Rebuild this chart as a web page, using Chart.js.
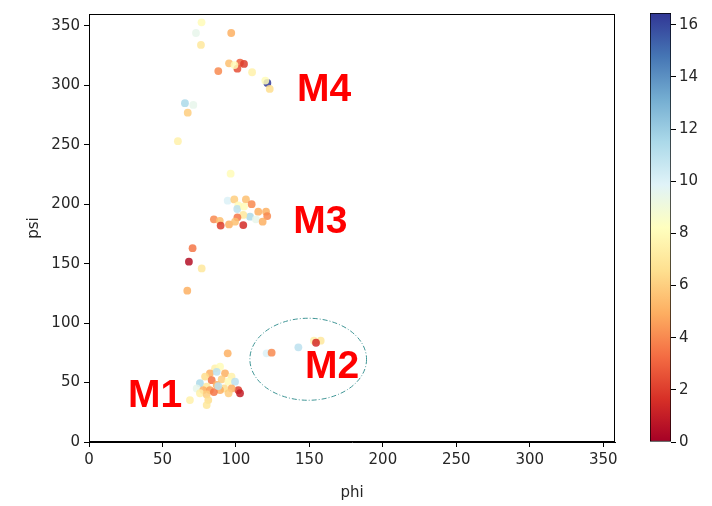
<!DOCTYPE html>
<html><head><meta charset="utf-8">
<script src="https://cdn.jsdelivr.net/npm/chart.js@4/dist/chart.umd.min.js"></script>
<style>
html,body{margin:0;padding:0;background:#fff;}
#wrap{position:relative;width:712px;height:506px;}
#main{position:absolute;left:0;top:0;}
#cb{position:absolute;left:640px;top:0;}
</style></head>
<body><div id="wrap"><canvas id="main" width="640" height="506"></canvas><canvas id="cb" width="72" height="506"></canvas></div>
<script>
const phi = [76.6,72.8,96.8,76.2,95.3,88,101,102.8,105.5,99,111,121.4,123,120,65.3,71,67.2,60.5,
  96.4,94.4,98.9,106.8,110.7,101.6,100.9,105.5,115.2,120.5,121.3,109.6,105,101,113.6,118.2,85,89,89.6,95.3,99.4,105,70.5,68,76.7,66.9,
  94.4,85.8,89.2,82.3,86.9,92.6,79,97,83.5,90.3,94.8,99.4,75.5,86.9,80.1,101.6,97.1,92,73.3,77.8,82.3,89.2,102.8,95,75.5,80.1,68.7,81.2,80.1,85,88,
  120.9,124.3,142.5,153.1,157.7,154.5];
const psi = [353,344,344,334,318.5,312,314,319,318,317,311,302,297,304,285,283.5,277,253,
  225.7,203,204,204,200,199,196,198,193.7,193.7,190,189.5,191,189,187.3,185.3,187.3,186,182,183,185.3,182.5,163,151.7,146,127.3,
  74.6,62,63.3,57.8,59,57.8,55,55,52,52.7,50.7,50.7,49.4,48,46.5,43.7,45,45,45,43.7,43.7,43.7,41,41,41,40,35.3,35.3,31.1,42,47,
  74.6,75.1,79.6,85.2,85.2,83.5];
const energy = [8,9.5,5,7,5.5,4,2.5,3,2,8,7.5,16.4,6.5,8,11.5,9.5,6,7.5,
  8,10,6,5.5,4,8,11,8,5,5,4,11.5,7,3.5,9.5,5,4,5.5,2,5,5.5,1.5,3.5,0.5,7,5,
  5,7.5,8,5,11,5,6.5,7.5,3.5,6,8,11,11.5,5,7,2,5,6.5,9.5,5,4.5,5,1,6,7.5,6,7.5,6.5,7,3.5,11,
  10,4,11,7.5,7,1.5];
const axisTicks = [0,50,100,150,200,250,300,350];
const cbTicks = [0,2,4,6,8,10,12,14,16];
const cbMax = 16.45;
const regionNames = ['M1','M2','M3','M4'];
const regionPhi = [26.5,147,139,141.5];
const regionPsi = [38.7,62.7,185,296];
const ellipseCenter = [149.2,69.6];
const ellipseRadii = [39.7,34.5];

const cmapStops = ['#a50026','#d73027','#f46d43','#fdae61','#fee090','#ffffbf','#e0f3f8','#abd9e9','#74add1','#4575b4','#313695'];
function hex2rgb(h){return [parseInt(h.substr(1,2),16),parseInt(h.substr(3,2),16),parseInt(h.substr(5,2),16)];}
function cmap(t,a){
  t=Math.max(0,Math.min(1,t));
  const p=t*(cmapStops.length-1), i=Math.min(Math.floor(p),cmapStops.length-2), f=p-i;
  const c0=hex2rgb(cmapStops[i]), c1=hex2rgb(cmapStops[i+1]);
  const c=c0.map((v,k)=>Math.round(v+(c1[k]-v)*f));
  return `rgba(${c[0]},${c[1]},${c[2]},${a})`;
}
const FONT = "'DejaVu Sans'";
const TXT = '#262626';

const boxPlugin = {
  id:'box',
  afterDraw(chart){
    const {ctx, chartArea:a, scales} = chart;
    ctx.save();
    const xs=scales.x, ys=scales.y;
    const cx=xs.getPixelForValue(ellipseCenter[0]), cy=ys.getPixelForValue(ellipseCenter[1]);
    const rx=xs.getPixelForValue(ellipseCenter[0]+ellipseRadii[0])-cx;
    const ry=cy-ys.getPixelForValue(ellipseCenter[1]+ellipseRadii[1]);
    ctx.strokeStyle='#3f9595'; ctx.lineWidth=1; ctx.setLineDash([5,2,1,2]);
    ctx.beginPath(); ctx.ellipse(cx,cy,rx,ry,0,0,Math.PI*2); ctx.stroke();
    ctx.setLineDash([]);
    ctx.fillStyle='#ff0000'; ctx.font="bold 39px 'Liberation Sans'"; ctx.textBaseline='middle'; ctx.textAlign='left';
    regionNames.forEach((n,i)=>{ctx.fillText(n, xs.getPixelForValue(regionPhi[i]), ys.getPixelForValue(regionPsi[i]));});
    ctx.strokeStyle='#000'; ctx.lineWidth=1;
    ctx.strokeRect(Math.round(a.left)+0.5, Math.round(a.top)+0.5, Math.round(a.right-a.left)-1, Math.round(a.bottom-a.top)-1);
    ctx.restore();
  }
};

new Chart(document.getElementById('main'), {
  type:'scatter',
  data:{datasets:[{
    data: phi.map((v,i)=>({x:v,y:psi[i]})),
    backgroundColor: energy.map(e=>cmap(e/cbMax,0.85)),
    pointRadius:3.9, pointBorderWidth:0, pointHoverRadius:3.9
  }]},
  options:{
    responsive:false, animation:false, devicePixelRatio:1,
    layout:{padding:{left:0,top:14,right:25,bottom:0}},
    plugins:{legend:{display:false},tooltip:{enabled:false}},
    scales:{
      x:{type:'linear',min:0,max:358,
        afterBuildTicks:s=>{s.ticks=axisTicks.map(v=>({value:v}));},
        afterFit:s=>{s.height=64;},
        grid:{drawOnChartArea:false,drawTicks:true,tickLength:5,color:'#000'},
        border:{color:'#000'},
        ticks:{color:TXT,font:{family:FONT,size:15},padding:4,maxRotation:0},
        title:{display:true,text:'phi',color:TXT,font:{family:FONT,size:15},padding:{top:2}}
      },
      y:{type:'linear',min:0,max:360,
        afterBuildTicks:s=>{s.ticks=axisTicks.map(v=>({value:v}));},
        afterFit:s=>{s.width=89;},
        grid:{drawOnChartArea:false,drawTicks:true,tickLength:5,color:'#000'},
        border:{color:'#000'},
        ticks:{color:TXT,font:{family:FONT,size:15},padding:4},
        title:{display:true,text:'psi',color:TXT,font:{family:FONT,size:15},padding:{top:25,bottom:0}}
      }
    }
  },
  plugins:[boxPlugin]
});

new Chart(document.getElementById('cb'), {
  type:'bar',
  data:{labels:['c'],datasets:[{
    data:[[0,cbMax]],
    barPercentage:1, categoryPercentage:1, borderSkipped:false,
    borderColor:'#000', borderWidth:1,
    backgroundColor:(ctx)=>{
      const ch=ctx.chart, a=ch.chartArea; if(!a) return '#fff';
      const ys=ch.scales.y;
      const g=ch.ctx.createLinearGradient(0,ys.getPixelForValue(0),0,ys.getPixelForValue(cbMax));
      cmapStops.forEach((c,i)=>g.addColorStop(i/(cmapStops.length-1),c));
      return g;
    }
  }]},
  options:{
    responsive:false, animation:false, devicePixelRatio:1,
    layout:{padding:{left:10,top:13,right:0,bottom:0}},
    plugins:{legend:{display:false},tooltip:{enabled:false}},
    scales:{
      x:{display:false, afterFit:s=>{s.height=64;}},
      y:{position:'right',min:0,max:cbMax,
        afterBuildTicks:s=>{s.ticks=cbTicks.map(v=>({value:v}));},
        afterFit:s=>{s.width=41;},
        grid:{drawOnChartArea:false,drawTicks:true,tickLength:5,color:'#000'},
        border:{display:false},
        ticks:{color:TXT,font:{family:FONT,size:15},padding:3}
      }
    }
  }
});
</script></body></html>
